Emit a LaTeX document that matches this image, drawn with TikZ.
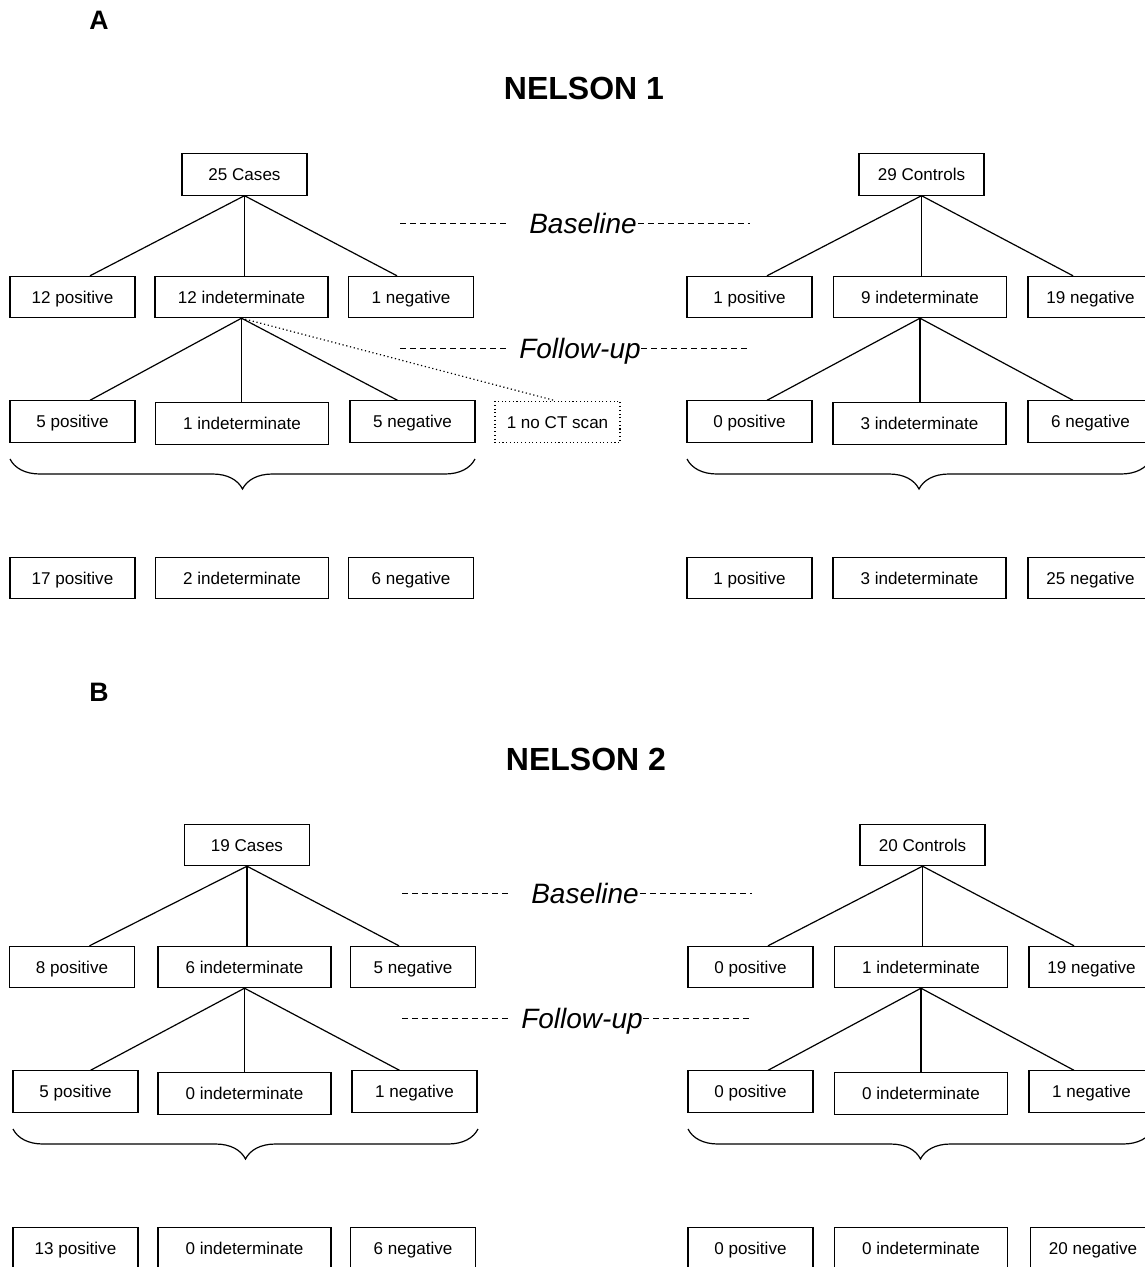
\documentclass[tikz,border=0pt]{standalone}
\usepackage{fontspec}
\setmainfont{Liberation Sans}
\usetikzlibrary{calc,decorations.pathreplacing}
\begin{document}
\begin{tikzpicture}[x=0.75pt,y=-0.75pt,
 box/.style={draw, line width=0.8pt, minimum height=31pt, inner sep=0pt, text height=9.2pt, text depth=0pt, font=\fontsize{12.8}{15}\selectfont},
 nbox/.style={box, minimum width=93.75pt},
 wbox/.style={box, minimum width=129.75pt},
 dbox/.style={nbox, dotted, line width=0.9pt},
 link/.style={line width=0.9pt},
 dotlink/.style={dotted, line width=0.9pt},
 phase/.style={font=\fontsize{21}{24}\selectfont\itshape, inner sep=0pt, anchor=base},
 sep/.style={dash pattern=on 4.5pt off 3pt, line width=0.7pt},
 title/.style={font=\fontsize{24}{28}\selectfont\bfseries, inner sep=0pt},
 panel/.style={font=\fontsize{20}{24}\selectfont\bfseries, inner sep=0pt},
 brc/.style={decorate, decoration={brace, mirror, amplitude=22.5pt}, line width=0.9pt}
]
\useasboundingbox (0,0) rectangle (1145,1267);
\clip (0,0) rectangle (1145,1267);
\fill[white] (0,0) rectangle (1145,1267);

% ---------------- Panel A ----------------
\node[panel] (labA) at (99,20) {A};
\node[title] (tA) at (584,88) {NELSON 1};

\node[nbox] (cA) at (244.5,174.5) {25 Cases};
\node[nbox] (pA1) at (72.5,297) {12 positive};
\node[wbox] (iA1) at (241.5,297) {12 indeterminate};
\node[nbox] (nA1) at (411,297) {1 negative};
\node[nbox] (pA2) at (72.5,421.5) {5 positive};
\node[wbox] (iA2) at (242,423.5) {1 indeterminate};
\node[nbox] (nA2) at (412.5,421.5) {5 negative};
\node[dbox] (ctA) at (557.5,422) {1 no CT scan};
\node[nbox] (pA3) at (72.5,578) {17 positive};
\node[wbox] (iA3) at (242,578) {2 indeterminate};
\node[nbox] (nA3) at (411,578) {6 negative};

\node[nbox] (cC) at (921.5,174.5) {29 Controls};
\node[nbox] (pC1) at (749.5,297) {1 positive};
\node[wbox] (iC1) at (920,297) {9 indeterminate};
\node[nbox] (nC1) at (1090.5,297) {19 negative};
\node[nbox] (pC2) at (749.5,421.5) {0 positive};
\node[wbox] (iC2) at (919.5,423.5) {3 indeterminate};
\node[nbox] (nC2) at (1090.5,421.5) {6 negative};
\node[nbox] (pC3) at (749.5,578) {1 positive};
\node[wbox] (iC3) at (919.5,578) {3 indeterminate};
\node[nbox] (nC3) at (1090.5,578) {25 negative};

\draw[link] (cA.south) -- ($(pA1.north)+(17.5,0)$);
\draw[link] (cA.south) -- (cA.south |- iA1.north);
\draw[link] (cA.south) -- ($(nA1.north)+(-14,0)$);
\draw[link] (iA1.south) -- ($(pA2.north)+(17.5,0)$);
\draw[link] (iA1.south) -- (iA1.south |- iA2.north);
\draw[link] (iA1.south) -- ($(nA2.north)+(-15,0)$);
\draw[dotlink] (iA1.south) -- ($(ctA.north)+(-2,0)$);

\draw[link] (cC.south) -- ($(pC1.north)+(17.5,0)$);
\draw[link] (cC.south) -- (cC.south |- iC1.north);
\draw[link] (cC.south) -- ($(nC1.north)+(-17.5,0)$);
\draw[link] (iC1.south) -- ($(pC2.north)+(17.5,0)$);
\draw[link] (iC1.south) -- (iC1.south |- iC2.north);
\draw[link] (iC1.south) -- ($(nC2.north)+(-17.5,0)$);

\node[phase] (baA) at (583,233) {Baseline};
\node[phase] (fuA) at (580,358) {Follow-up};
\coordinate (baAl) at (400,223); \coordinate (baAr) at (750,223);
\coordinate (fuAl) at (400,348); \coordinate (fuAr) at (750,348);
\draw[sep] (baAl) -- (510,223);
\draw[sep] (638,223) -- (baAr);
\draw[sep] (fuAl) -- (510,348);
\draw[sep] (641,348) -- (fuAr);

\coordinate (brA1) at (10,459); \coordinate (brA2) at (475,459);
\coordinate (brC1) at (687,459); \coordinate (brC2) at (1151,459);
\draw[brc] (brA1) -- (brA2);
\draw[brc] (brC1) -- (brC2);

% ---------------- Panel B ----------------
\begin{scope}[shift={(2,670)}]
\node[panel] (labB) at (97,22) {B};
\node[title] (tB) at (584,89) {NELSON 2};

\node[nbox] (cB) at (245,175) {19 Cases};
\node[nbox] (pB1) at (70,297) {8 positive};
\node[wbox] (iB1) at (242.5,297) {6 indeterminate};
\node[nbox] (nB1) at (411,297) {5 negative};
\node[nbox] (pB2) at (73.5,421.5) {5 positive};
\node[wbox] (iB2) at (242.5,423.5) {0 indeterminate};
\node[nbox] (nB2) at (412.5,421.5) {1 negative};
\node[nbox] (pB3) at (73.5,578) {13 positive};
\node[wbox] (iB3) at (242.5,578) {0 indeterminate};
\node[nbox] (nB3) at (411,578) {6 negative};

\node[nbox] (cD) at (920.5,175) {20 Controls};
\node[nbox] (pD1) at (748.5,297) {0 positive};
\node[wbox] (iD1) at (919,297) {1 indeterminate};
\node[nbox] (nD1) at (1089.5,297) {19 negative};
\node[nbox] (pD2) at (748.5,421.5) {0 positive};
\node[wbox] (iD2) at (919,423.5) {0 indeterminate};
\node[nbox] (nD2) at (1089.5,421.5) {1 negative};
\node[nbox] (pD3) at (748.5,578) {0 positive};
\node[wbox] (iD3) at (919,578) {0 indeterminate};
\node[nbox] (nD3) at (1091,578) {20 negative};

\draw[link] (cB.south) -- ($(pB1.north)+(17.5,0)$);
\draw[link] (cB.south) -- (cB.south |- iB1.north);
\draw[link] (cB.south) -- ($(nB1.north)+(-14,0)$);
\draw[link] (iB1.south) -- ($(pB2.north)+(15,0)$);
\draw[link] (iB1.south) -- (iB1.south |- iB2.north);
\draw[link] (iB1.south) -- ($(nB2.north)+(-15,0)$);

\draw[link] (cD.south) -- ($(pD1.north)+(17.5,0)$);
\draw[link] (cD.south) -- (cD.south |- iD1.north);
\draw[link] (cD.south) -- ($(nD1.north)+(-17.5,0)$);
\draw[link] (iD1.south) -- ($(pD2.north)+(17.5,0)$);
\draw[link] (iD1.south) -- (iD1.south |- iD2.north);
\draw[link] (iD1.south) -- ($(nD2.north)+(-17.5,0)$);

\node[phase] (baB) at (583,233) {Baseline};
\node[phase] (fuB) at (580,358) {Follow-up};
\coordinate (baBl) at (400,223); \coordinate (baBr) at (750,223);
\coordinate (fuBl) at (400,348); \coordinate (fuBr) at (750,348);
\draw[sep] (baBl) -- (510,223);
\draw[sep] (638,223) -- (baBr);
\draw[sep] (fuBl) -- (510,348);
\draw[sep] (641,348) -- (fuBr);

\coordinate (brB1) at (11,459); \coordinate (brB2) at (476,459);
\coordinate (brD1) at (686,459); \coordinate (brD2) at (1151,459);
\draw[brc] (brB1) -- (brB2);
\draw[brc] (brD1) -- (brD2);
\end{scope}
\end{tikzpicture}
\end{document}
